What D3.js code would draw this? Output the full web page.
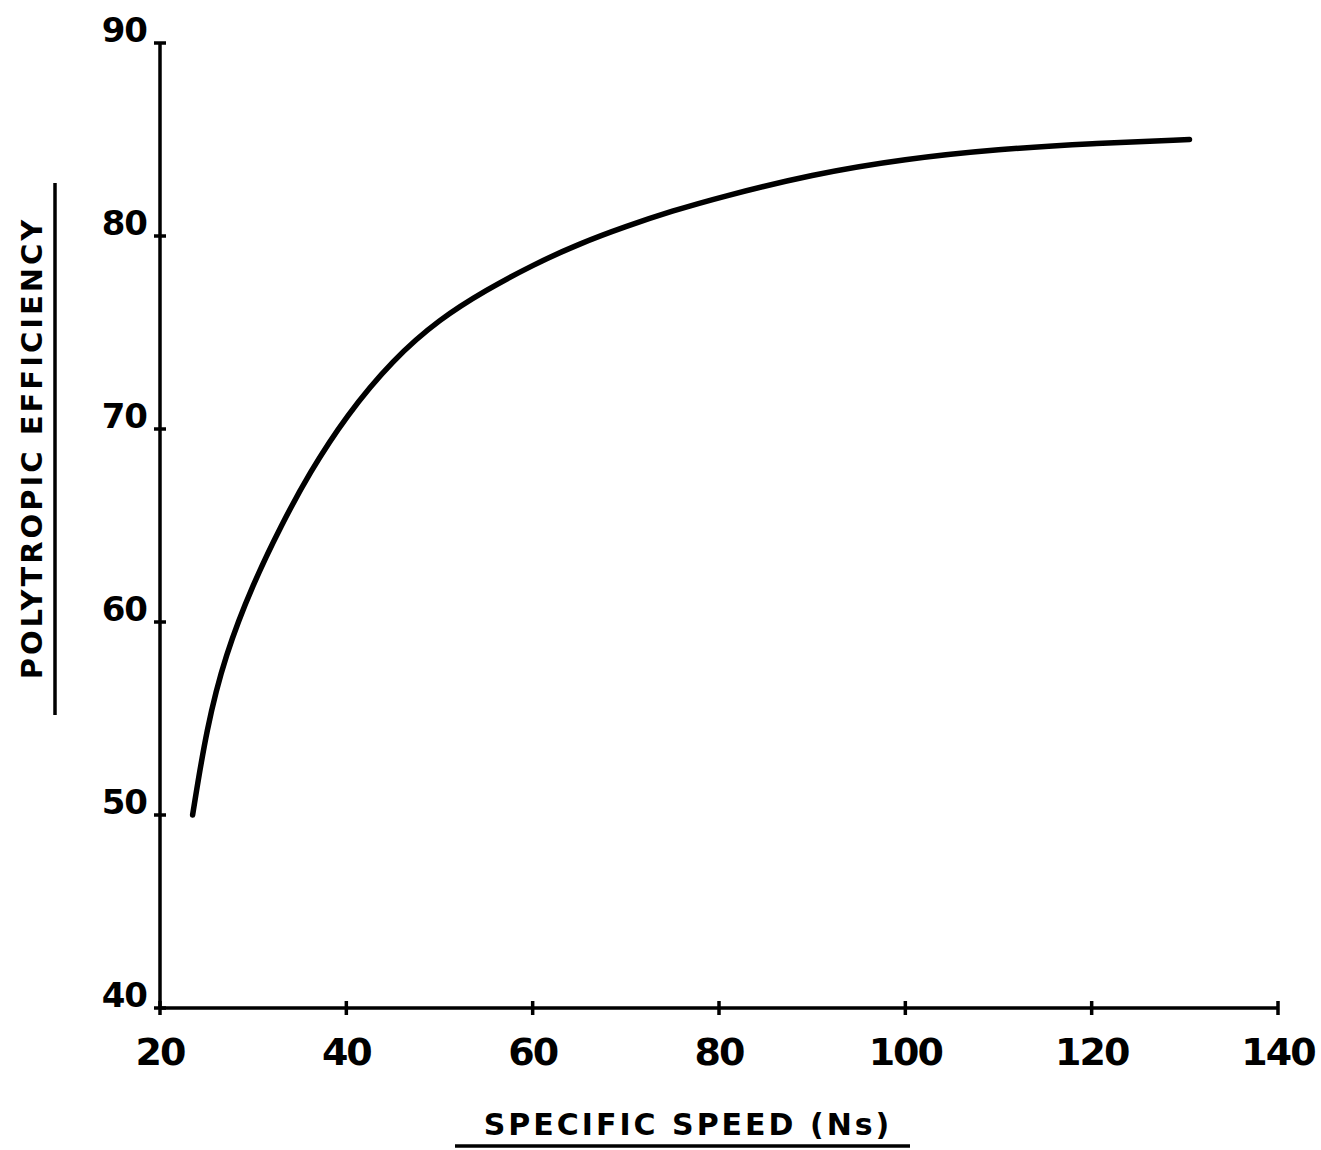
<!DOCTYPE html>
<html>
<head>
<meta charset="utf-8">
<script src="https://cdn.jsdelivr.net/npm/d3@7"></script>
<style>
  body { margin: 0; background: #fff; }
  text { font-family: "DejaVu Sans", sans-serif; font-weight: bold; fill: #000; }
</style>
</head>
<body>
<svg id="chart" width="1321" height="1150"></svg>
<script>
// specific speed vs polytropic efficiency
var speeds = [23.5, 25, 27, 30, 33, 36, 40, 45, 50, 55, 60, 65, 70, 75, 80, 90, 100, 110, 120, 130.5];
var effs   = [50, 54.5, 58.3, 62, 65.0, 67.7, 70.7, 73.6, 75.7, 77.2, 78.5, 79.6, 80.5, 81.3, 82.0, 83.2, 84, 84.5, 84.8, 85];
var xTicks = [20, 40, 60, 80, 100, 120, 140];
var yTicks = [40, 50, 60, 70, 80, 90];

var svg = d3.select("#chart");

var x = d3.scaleLinear().domain([20, 140]).range([160, 1278]);
var y = d3.scaleLinear().domain([40, 90]).range([1008, 43]);

// y axis
var yAxis = svg.append("g").attr("transform", "translate(" + x(20) + ",0)");
yAxis.append("line")
  .attr("y1", y(40)).attr("y2", y(90))
  .attr("stroke", "#000").attr("stroke-width", 3.5);
yAxis.selectAll("line.tick").data(yTicks).enter().append("line")
  .attr("class", "tick")
  .attr("x1", -6).attr("x2", 6)
  .attr("y1", function(d) { return y(d); })
  .attr("y2", function(d) { return y(d); })
  .attr("stroke", "#000").attr("stroke-width", 3.5);
yAxis.selectAll("text").data(yTicks).enter().append("text")
  .attr("x", -13)
  .attr("y", function(d) { return y(d) - 1; })
  .attr("text-anchor", "end")
  .attr("font-size", 34)
  .attr("letter-spacing", -1)
  .text(function(d) { return d; });

// x axis
var xAxis = svg.append("g").attr("transform", "translate(0," + y(40) + ")");
xAxis.append("line")
  .attr("x1", x(20)).attr("x2", x(140))
  .attr("stroke", "#000").attr("stroke-width", 3.5);
xAxis.selectAll("line.tick").data(xTicks).enter().append("line")
  .attr("class", "tick")
  .attr("x1", function(d) { return x(d); })
  .attr("x2", function(d) { return x(d); })
  .attr("y1", -7).attr("y2", 7)
  .attr("stroke", "#000").attr("stroke-width", 3.5);
xAxis.selectAll("text").data(xTicks).enter().append("text")
  .attr("x", function(d) { return x(d); })
  .attr("y", 57)
  .attr("text-anchor", "middle")
  .attr("font-size", 38)
  .attr("letter-spacing", -2)
  .text(function(d) { return d; });

// curve
var line = d3.line()
  .x(function(d) { return x(d[0]); })
  .y(function(d) { return y(d[1]); })
  .curve(d3.curveBasis);

svg.append("path")
  .datum(d3.zip(speeds, effs))
  .attr("d", line)
  .attr("fill", "none")
  .attr("stroke", "#000")
  .attr("stroke-width", 5.5)
  .attr("stroke-linecap", "round");

// axis titles, underlined
svg.append("text")
  .attr("x", 688).attr("y", 1135)
  .attr("text-anchor", "middle")
  .attr("font-size", 30)
  .attr("letter-spacing", 3)
  .text("SPECIFIC SPEED (Ns)");
svg.append("line")
  .attr("x1", 455).attr("x2", 910).attr("y1", 1146).attr("y2", 1146)
  .attr("stroke", "#000").attr("stroke-width", 3.5);

svg.append("text")
  .attr("transform", "translate(42,448) rotate(-90)")
  .attr("text-anchor", "middle")
  .attr("font-size", 29)
  .attr("letter-spacing", 3)
  .text("POLYTROPIC EFFICIENCY");
svg.append("line")
  .attr("x1", 55).attr("x2", 55).attr("y1", 183).attr("y2", 715)
  .attr("stroke", "#000").attr("stroke-width", 3.5);
</script>
</body>
</html>
